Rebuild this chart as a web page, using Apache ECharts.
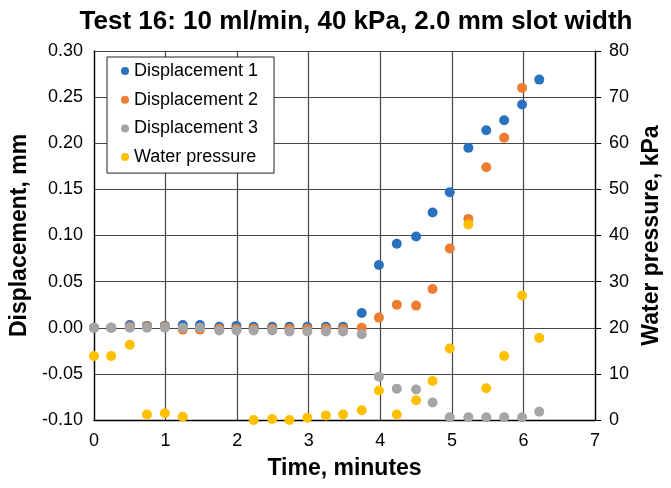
<!DOCTYPE html>
<html>
<head>
<meta charset="utf-8">
<script src="https://cdn.jsdelivr.net/npm/echarts@6/dist/echarts.min.js"></script>
<style>
  html, body { margin: 0; padding: 0; background: #fff; }
  #chart { width: 671px; height: 488px; }
</style>
</head>
<body>
<div id="chart"></div>
<script>
// Elapsed time of each reading, minutes
const timeMin = [0, 0.24, 0.5, 0.74, 0.99, 1.24, 1.48, 1.75, 1.99, 2.23, 2.49, 2.73, 2.98,
  3.24, 3.48, 3.74, 3.98, 4.23, 4.5, 4.73, 4.97, 5.23, 5.48, 5.73, 5.98, 6.22];

// Displacement gauges, mm
const disp1 = [0, 0, 0.003, 0.002, 0.002, 0.003, 0.003, 0.001, 0.002, 0.001, 0.001, 0.001, 0.001,
  0.001, 0.001, 0.016, 0.068, 0.091, 0.099, 0.125, 0.147, 0.195, 0.214, 0.225, 0.242, 0.269];
const disp2 = [0, 0, 0.001, 0.001, 0.001, -0.002, -0.002, -0.001, -0.001, -0.001, -0.001, -0.001, -0.001,
  -0.001, -0.001, 0.0, 0.011, 0.025, 0.024, 0.042, 0.086, 0.118, 0.174, 0.206, 0.260, null];
const disp3 = [0, 0, 0, 0, 0, 0, 0, -0.003, -0.003, -0.003, -0.003, -0.004, -0.004,
  -0.004, -0.004, -0.007, -0.053, -0.066, -0.067, -0.081, -0.097, -0.097, -0.097, -0.097, -0.097, -0.091];

// Water pressure, kPa
const pressure = [13.9, 13.9, 16.3, 1.2, 1.45, 0.7, null, null, null, 0, 0.2, 0, 0.5,
  1.0, 1.2, 2.1, 6.4, 1.2, 4.3, 8.45, 15.5, 42.4, 6.9, 13.9, 27.0, 17.8];

const seriesNames = ['Displacement 1', 'Displacement 2', 'Displacement 3', 'Water pressure'];
const seriesColors = ['#2a72c0', '#ed7d31', '#a5a5a5', '#ffc000'];

const FONT = 'Liberation Sans, Arial, sans-serif';

function pairs(values) {
  const out = [];
  for (let i = 0; i < timeMin.length; i++) {
    if (values[i] !== null && values[i] !== undefined) out.push([timeMin[i], values[i]]);
  }
  return out;
}

const chart = echarts.init(document.getElementById('chart'), null, { renderer: 'canvas' });

const gridColor = '#454545';

chart.setOption({
  animation: false,
  backgroundColor: '#fff',
  textStyle: { fontFamily: FONT },
  title: {
    text: 'Test 16: 10 ml/min, 40 kPa, 2.0 mm slot width',
    left: 351,
    textAlign: 'center',
    top: 4,
    textStyle: { fontFamily: FONT, fontSize: 26, fontWeight: 'bold', color: '#000' }
  },
  legend: {
    orient: 'vertical',
    left: 107,
    top: 57,
    padding: [5, 16, 7, 14],
    itemGap: 10.7,
    itemWidth: 8,
    itemHeight: 8,
    icon: 'circle',
    backgroundColor: '#fff',
    borderColor: '#222',
    borderWidth: 1,
    textStyle: { fontFamily: FONT, fontSize: 18, color: '#000' },
    data: seriesNames
  },
  grid: { left: 94, right: 69, top: 51, bottom: 68, containLabel: false },
  xAxis: {
    type: 'value',
    min: 0, max: 7, interval: 1,
    name: 'Time, minutes',
    nameLocation: 'middle',
    nameGap: 37,
    nameTextStyle: { fontFamily: FONT, fontSize: 23, fontWeight: 'bold', color: '#000' },
    axisLine: { onZero: false, lineStyle: { color: '#000', width: 1.3 } },
    axisTick: { show: false },
    axisLabel: { margin: 12, fontFamily: FONT, fontSize: 18, color: '#000' },
    splitLine: { show: true, lineStyle: { color: gridColor, width: 1.2 } }
  },
  yAxis: [
    {
      type: 'value',
      min: -0.1, max: 0.3, interval: 0.05,
      name: 'Displacement, mm',
      nameLocation: 'middle',
      nameRotate: 90,
      nameGap: 62,
      nameTextStyle: { fontFamily: FONT, fontSize: 23, fontWeight: 'bold', color: '#000' },
      axisLine: { show: true, onZero: false, lineStyle: { color: '#000', width: 1.3 } },
      axisTick: { show: false },
      axisLabel: {
        margin: 11, fontFamily: FONT, fontSize: 18, color: '#000',
        formatter: v => v.toFixed(2)
      },
      splitLine: { show: true, lineStyle: { color: gridColor, width: 1.2 } }
    },
    {
      type: 'value',
      position: 'right',
      min: 0, max: 80, interval: 10,
      name: 'Water pressure, kPa',
      nameLocation: 'middle',
      nameRotate: 90,
      nameGap: 43,
      nameTextStyle: { fontFamily: FONT, fontSize: 23, fontWeight: 'bold', color: '#000' },
      axisLine: { show: true, onZero: false, lineStyle: { color: '#000', width: 1.3 } },
      axisTick: { show: true, inside: false, length: 6, lineStyle: { color: '#000' } },
      axisLabel: { margin: 14, fontFamily: FONT, fontSize: 18, color: '#000' },
      splitLine: { show: false }
    }
  ],
  series: [
    { name: seriesNames[0], type: 'scatter', yAxisIndex: 0, symbolSize: 10,
      itemStyle: { color: seriesColors[0], opacity: 1 }, data: pairs(disp1) },
    { name: seriesNames[1], type: 'scatter', yAxisIndex: 0, symbolSize: 10,
      itemStyle: { color: seriesColors[1], opacity: 1 }, data: pairs(disp2) },
    { name: seriesNames[2], type: 'scatter', yAxisIndex: 0, symbolSize: 10,
      itemStyle: { color: seriesColors[2], opacity: 1 }, data: pairs(disp3) },
    { name: seriesNames[3], type: 'scatter', yAxisIndex: 1, symbolSize: 10,
      itemStyle: { color: seriesColors[3], opacity: 1 }, data: pairs(pressure) }
  ]
});
</script>
</body>
</html>
